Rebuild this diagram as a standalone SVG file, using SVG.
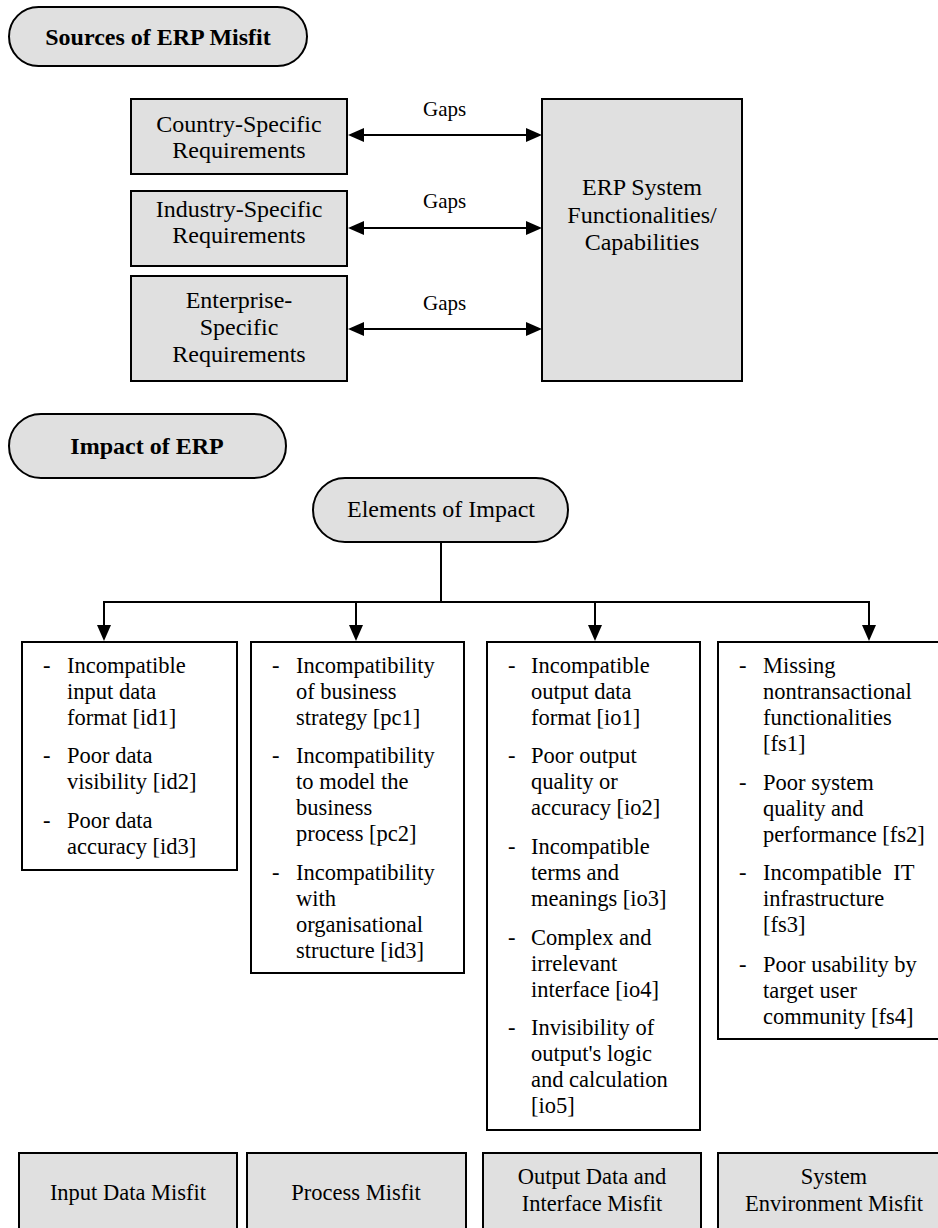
<svg xmlns="http://www.w3.org/2000/svg" width="938" height="1228" viewBox="0 0 938 1228">
<defs>
<style>
text{font-family:"Liberation Serif","Times New Roman",serif;fill:#000}
.t24{font-size:24px}
.b24{font-size:24px;font-weight:bold}
.t22{font-size:22.5px}
.g{font-size:21px}
.c{text-anchor:middle}
.gray{fill:#e0e0e0;stroke:#000;stroke-width:2}
.white{fill:#fff;stroke:#000;stroke-width:2}
.ln{fill:none;stroke:#000;stroke-width:2}
</style>
<marker id="ah" viewBox="0 0 16 14" refX="10" refY="7" markerWidth="16" markerHeight="14" markerUnits="userSpaceOnUse" orient="auto-start-reverse">
<path d="M0,0 L16,7 L0,14 z" fill="#000"/>
</marker>
</defs>
<rect width="938" height="1228" fill="#fff"/>

<g id="sources-title">
<rect class="gray" x="9" y="7" width="298" height="59" rx="29.5" ry="29.5"/>
<text class="b24 c" x="158" y="45">Sources of ERP Misfit</text>
</g>

<g id="country">
<rect class="gray" x="131" y="99" width="216" height="75"/>
<text class="t24 c" x="239" y="132">Country-Specific</text>
<text class="t24 c" x="239" y="158">Requirements</text>
</g>
<g id="industry">
<rect class="gray" x="131" y="191" width="216" height="75"/>
<text class="t24 c" x="239" y="217">Industry-Specific</text>
<text class="t24 c" x="239" y="243">Requirements</text>
</g>
<g id="enterprise">
<rect class="gray" x="131" y="276" width="216" height="105"/>
<text class="t24 c" x="239" y="308">Enterprise-</text>
<text class="t24 c" x="239" y="335">Specific</text>
<text class="t24 c" x="239" y="362">Requirements</text>
</g>
<g id="erp">
<rect class="gray" x="542" y="99" width="200" height="282"/>
<text class="t24 c" x="642" y="195">ERP System</text>
<text class="t24 c" x="642" y="223">Functionalities/</text>
<text class="t24 c" x="642" y="250">Capabilities</text>
</g>

<g id="impact-title">
<rect class="gray" x="9" y="414" width="277" height="64" rx="32" ry="32"/>
<text class="b24 c" x="147" y="454">Impact of ERP</text>
</g>
<g id="elements">
<rect class="gray" x="313" y="478" width="255" height="64" rx="32" ry="32"/>
<text class="t24 c" x="441" y="517">Elements of Impact</text>
</g>

<g id="connectors">
<line class="ln" x1="354" y1="135" x2="536" y2="135" marker-start="url(#ah)" marker-end="url(#ah)"/>
<line class="ln" x1="354" y1="228" x2="536" y2="228" marker-start="url(#ah)" marker-end="url(#ah)"/>
<line class="ln" x1="354" y1="329" x2="536" y2="329" marker-start="url(#ah)" marker-end="url(#ah)"/>
<text class="g" x="423" y="116">Gaps</text>
<text class="g" x="423" y="208">Gaps</text>
<text class="g" x="423" y="310">Gaps</text>
<polyline class="ln" points="441,542 441,602"/>
<polyline class="ln" points="104,602 869,602"/>
<line class="ln" x1="104" y1="601" x2="104" y2="635" marker-end="url(#ah)"/>
<line class="ln" x1="356" y1="601" x2="356" y2="635" marker-end="url(#ah)"/>
<line class="ln" x1="595" y1="601" x2="595" y2="635" marker-end="url(#ah)"/>
<line class="ln" x1="869" y1="601" x2="869" y2="635" marker-end="url(#ah)"/>
</g>

<g id="input-list">
<rect class="white" x="22" y="642" width="215" height="228"/>
<g class="t22">
<text x="43" y="673">-</text><text x="67" y="673">Incompatible</text>
<text x="67" y="699">input data</text>
<text x="67" y="725">format [id1]</text>
<text x="43" y="763">-</text><text x="67" y="763">Poor data</text>
<text x="67" y="789">visibility [id2]</text>
<text x="43" y="828">-</text><text x="67" y="828">Poor data</text>
<text x="67" y="854">accuracy [id3]</text>
</g>
</g>

<g id="process-list">
<rect class="white" x="251" y="642" width="213" height="331"/>
<g class="t22">
<text x="272" y="673">-</text><text x="296" y="673">Incompatibility</text>
<text x="296" y="699">of business</text>
<text x="296" y="725">strategy [pc1]</text>
<text x="272" y="763">-</text><text x="296" y="763">Incompatibility</text>
<text x="296" y="789">to model the</text>
<text x="296" y="815">business</text>
<text x="296" y="841">process [pc2]</text>
<text x="272" y="880">-</text><text x="296" y="880">Incompatibility</text>
<text x="296" y="906">with</text>
<text x="296" y="932">organisational</text>
<text x="296" y="958">structure [id3]</text>
</g>
</g>

<g id="output-list">
<rect class="white" x="487" y="642" width="213" height="488"/>
<g class="t22">
<text x="508" y="673">-</text><text x="531" y="673">Incompatible</text>
<text x="531" y="699">output data</text>
<text x="531" y="725">format [io1]</text>
<text x="508" y="763">-</text><text x="531" y="763">Poor output</text>
<text x="531" y="789">quality or</text>
<text x="531" y="815">accuracy [io2]</text>
<text x="508" y="854">-</text><text x="531" y="854">Incompatible</text>
<text x="531" y="880">terms and</text>
<text x="531" y="906">meanings [io3]</text>
<text x="508" y="945">-</text><text x="531" y="945">Complex and</text>
<text x="531" y="971">irrelevant</text>
<text x="531" y="997">interface [io4]</text>
<text x="508" y="1035">-</text><text x="531" y="1035">Invisibility of</text>
<text x="531" y="1061">output's logic</text>
<text x="531" y="1087">and calculation</text>
<text x="531" y="1113">[io5]</text>
</g>
</g>

<g id="system-list">
<rect class="white" x="718" y="642" width="232" height="397"/>
<g class="t22">
<text x="739" y="673">-</text><text x="763" y="673">Missing</text>
<text x="763" y="699">nontransactional</text>
<text x="763" y="725">functionalities</text>
<text x="763" y="751">[fs1]</text>
<text x="739" y="790">-</text><text x="763" y="790">Poor system</text>
<text x="763" y="816">quality and</text>
<text x="763" y="842">performance [fs2]</text>
<text x="739" y="880">-</text><text x="763" y="880" word-spacing="6">Incompatible IT</text>
<text x="763" y="906">infrastructure</text>
<text x="763" y="932">[fs3]</text>
<text x="739" y="972">-</text><text x="763" y="972">Poor usability by</text>
<text x="763" y="998">target user</text>
<text x="763" y="1024">community [fs4]</text>
</g>
</g>

<g id="input-misfit">
<rect class="gray" x="19" y="1153" width="218" height="85"/>
<text class="t22 c" x="128" y="1200">Input Data Misfit</text>
</g>
<g id="process-misfit">
<rect class="gray" x="247" y="1153" width="219" height="85"/>
<text class="t22 c" x="356" y="1200">Process Misfit</text>
</g>
<g id="output-misfit">
<rect class="gray" x="483" y="1153" width="218" height="85"/>
<text class="t22 c" x="592" y="1184">Output Data and</text>
<text class="t22 c" x="592" y="1211">Interface Misfit</text>
</g>
<g id="system-misfit">
<rect class="gray" x="718" y="1153" width="232" height="85"/>
<text class="t22 c" x="834" y="1184">System</text>
<text class="t22 c" x="834" y="1211">Environment Misfit</text>
</g>
</svg>
